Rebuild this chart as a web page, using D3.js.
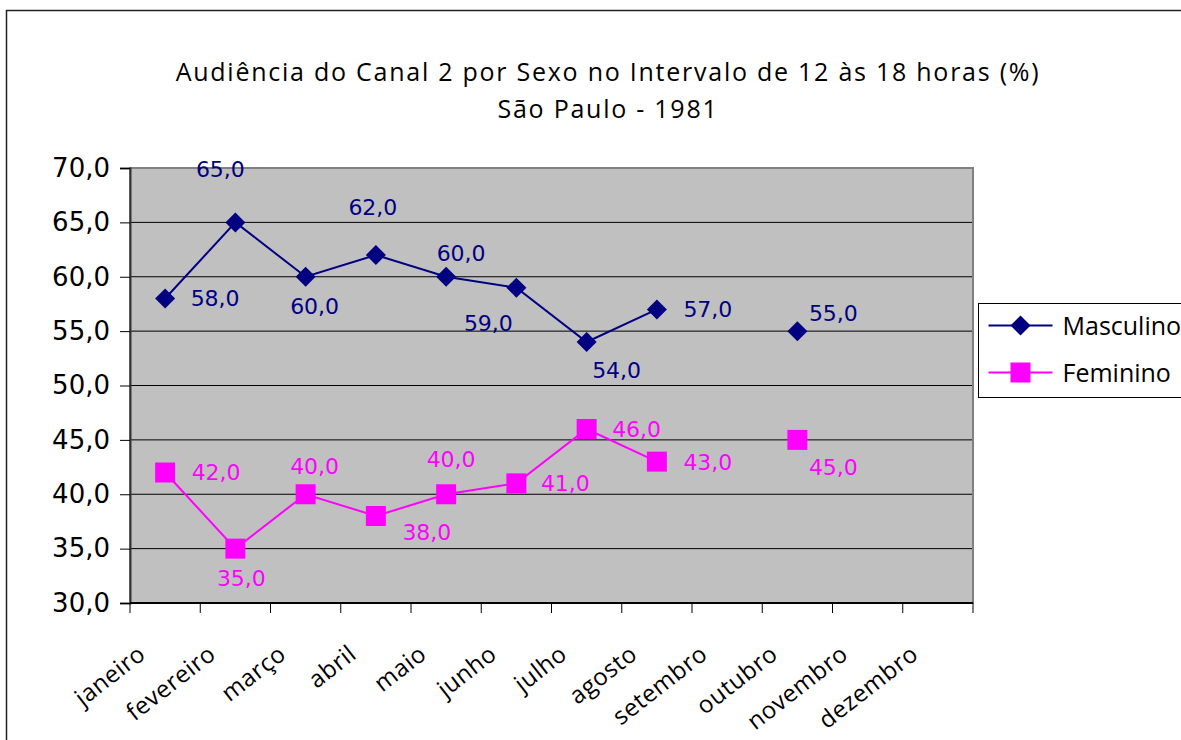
<!DOCTYPE html>
<html>
<head>
<meta charset="utf-8">
<script src="https://cdn.jsdelivr.net/npm/d3@7"></script>
<style>
  body { margin: 0; background: #fff; }
  svg { display: block; }
  .comic { font-family: "Comic Sans MS", "Open Sans", sans-serif; }
  .num { font-family: "DejaVu Sans", Verdana, sans-serif; }
</style>
</head>
<body>
<div id="canvas" class="canvas"></div>
<script>
// --- data
var meses = ['janeiro','fevereiro','março','abril','maio','junho','julho','agosto','setembro','outubro','novembro','dezembro'];
var masculino = [58, 65, 60, 62, 60, 59, 54, 57, null, 55, null, null];
var feminino  = [42, 35, 40, 38, 40, 41, 46, 43, null, 45, null, null];
var yTicks = [30, 35, 40, 45, 50, 55, 60, 65, 70];
var titulo = ['Audiência do Canal 2 por Sexo no Intervalo de 12 às 18 horas (%)', 'São Paulo - 1981'];

// label offsets (dx, dy from the point, to the label centre) - hand placed like the excel chart
var offM = [[50,0],[-15,-53],[9,29],[-3,-48],[15,-24],[-28,35],[30,28],[51,0],null,[36,-18]];
var offF = [[51,0],[6,29],[9,-28],[51,16],[5,-35],[49,0],[50,0],[51,0],null,[36,27]];

// --- margin convention
var W = 1181, H = 740;
var M = {top:168, right:208, bottom:137, left:130};
var w = W - M.left - M.right,
    h = H - M.top - M.bottom;

var svg = d3.select('.canvas')
    .append('svg')
    .attr('width', W)
    .attr('height', H);

// chart border (runs off the picture on the right and bottom)
svg.append('rect')
    .attr('x', 6.5).attr('y', 10.5)
    .attr('width', W + 20).attr('height', H + 20)
    .style('fill', 'none')
    .style('stroke', '#222')
    .style('stroke-width', 1.5);

// title
svg.append('text')
    .attr('class', 'comic')
    .attr('x', 608).attr('y', 81)
    .attr('text-anchor', 'middle')
    .style('font-size', '25px')
    .style('letter-spacing', '1.75px')
    .selectAll('tspan')
    .data(titulo)
    .enter().append('tspan')
    .attr('x', 608)
    .attr('dy', function(d, i){ return i ? 37 : 0; })
    .text(function(d){ return d; });

var plot = svg.append('g')
    .attr('transform', 'translate(' + M.left + ',' + M.top + ')');

var x = d3.scaleBand().domain(meses).range([0, w]);
var y = d3.scaleLinear().domain([30, 70]).range([h, 0]);

// plot area
plot.append('rect')
    .attr('width', w).attr('height', h)
    .style('fill', '#c0c0c0');

// gridlines
plot.selectAll('.grid')
    .data(yTicks.slice(1, -1))
    .enter().append('line')
    .attr('x1', 0).attr('x2', w)
    .attr('y1', function(d){ return y(d); })
    .attr('y2', function(d){ return y(d); })
    .style('stroke', '#000')
    .style('stroke-width', 1);

plot.append('rect')
    .attr('width', w).attr('height', h)
    .style('fill', 'none')
    .style('stroke', '#808080')
    .style('stroke-width', 2);

// y axis
var yAxis = plot.append('g')
    .call(d3.axisLeft(y).tickValues(yTicks).tickSize(10).tickPadding(10)
        .tickFormat(function(d){ return d3.format('.1f')(d).replace('.', ','); }));
yAxis.select('.domain').style('stroke', '#333').style('stroke-width', 2);
yAxis.selectAll('.tick line').style('stroke', '#000');
yAxis.selectAll('text')
    .attr('class', 'num')
    .style('font-size', '26px')
    .style('fill', '#000');

// x axis, ticks between the categories
var xAxis = plot.append('g')
    .attr('transform', 'translate(0,' + h + ')');
xAxis.append('line')
    .attr('x1', 0).attr('x2', w)
    .style('stroke', '#000').style('stroke-width', 2);
xAxis.selectAll('.xt')
    .data(meses.concat(['fim']))
    .enter().append('line')
    .attr('x1', function(d, i){ return i * x.step(); })
    .attr('x2', function(d, i){ return i * x.step(); })
    .attr('y1', 0).attr('y2', 10)
    .style('stroke', '#000');
xAxis.selectAll('.xl')
    .data(meses)
    .enter().append('text')
    .attr('class', 'comic')
    .attr('transform', function(d){
        return 'translate(' + (x(d) + x.bandwidth()/2 - 18) + ',' + 54 + ') rotate(-38)';
    })
    .attr('text-anchor', 'end')
    .style('font-size', '24px')
    .style('letter-spacing', '0.5px')
    .text(function(d){ return d; });

function cx(i){ return x(meses[i]) + x.bandwidth()/2; }

var line = d3.line()
    .defined(function(d){ return d != null; })
    .x(function(d, i){ return cx(i); })
    .y(function(d){ return y(d); });

var series = [
    {name:'Masculino', values:masculino, color:'#000080', off:offM, shape:'diamond'},
    {name:'Feminino',  values:feminino,  color:'#ff00ff', off:offF, shape:'square'}
];

function marker(g, s){
    if (s.shape == 'diamond') {
        g.append('path').attr('d', 'M0,-10L10,0L0,10L-10,0Z').style('fill', s.color);
    } else {
        g.append('rect').attr('x', -10).attr('y', -10).attr('width', 20).attr('height', 20).style('fill', s.color);
    }
}

series.forEach(function(s){
    plot.append('path')
        .datum(s.values)
        .attr('d', line)
        .style('fill', 'none')
        .style('stroke', s.color)
        .style('stroke-width', 2);

    s.values.forEach(function(v, i){
        if (v == null) return;
        var g = plot.append('g').attr('transform', 'translate(' + cx(i) + ',' + y(v) + ')');
        marker(g, s);
        plot.append('text')
            .attr('class', 'num')
            .attr('x', cx(i) + s.off[i][0])
            .attr('y', y(v) + s.off[i][1])
            .attr('dy', '0.36em')
            .attr('text-anchor', 'middle')
            .style('font-size', '22px')
            .style('fill', s.color)
            .text(d3.format('.1f')(v).replace('.', ','));
    });
});

// legend
var leg = svg.append('g').attr('transform', 'translate(978.5,303.5)');
leg.append('rect')
    .attr('width', 260).attr('height', 94)
    .style('fill', '#fff')
    .style('stroke', '#000')
    .style('stroke-width', 1);
series.forEach(function(s, i){
    var ly = 22 + i * 47;
    leg.append('line')
        .attr('x1', 10).attr('x2', 74)
        .attr('y1', ly).attr('y2', ly)
        .style('stroke', s.color).style('stroke-width', 2);
    marker(leg.append('g').attr('transform', 'translate(42,' + ly + ')'), s);
    leg.append('text')
        .attr('class', 'comic')
        .attr('x', 84).attr('y', ly)
        .attr('dy', '0.36em')
        .style('font-size', '25px')
        .text(s.name);
});
</script>
</body>
</html>
